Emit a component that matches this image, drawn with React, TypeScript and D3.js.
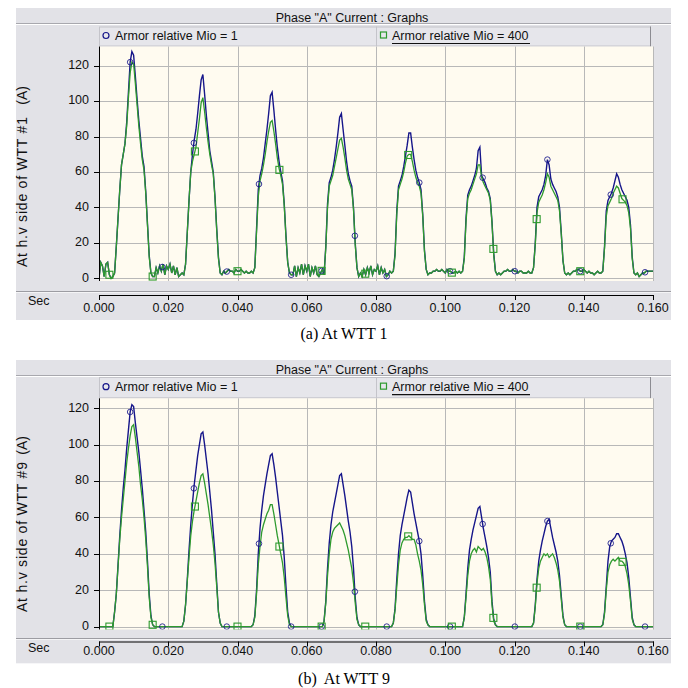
import React from "react";
import * as d3 from "d3";

// sampling step of the traces (s)
const STEP = 0.0005;
const time = d3.range(0, 321).map(i => i * STEP);

// WTT 1, Armor relative Mio = 1 (one row per 0.02 s period)
const wtt1Mio1 = [
  0,9,7,1,8,9,2,0, 1,3,18,34,50,64,70,76,88,105,122,128,126,114,101,89,79,69,63,49,31,13,3,1, 1,6,3,7,4,8,2,7,
  5,8,3,7,2,6,1,2, 3,2,8,26,44,60,70,78,84,93,103,112,115,104,92,82,72,66,60,46,28,12,3,2, 4,3,4,5,4,4,3,5,
  4,4,5,4,3,4,3,3, 4,3,6,28,50,58,62,68,76,84,93,103,105,95,84,74,66,60,55,42,24,9,3,2, 2,7,1,6,3,8,2,7,
  4,8,1,6,3,7,2,1, 3,5,2,18,42,54,57,61,67,74,82,91,93,84,75,66,59,55,52,40,20,6,1,3, 1,5,2,6,3,7,2,5,
  4,7,2,6,3,5,1,2, 4,3,4,14,38,52,55,58,63,69,75,82,82,74,67,61,57,54,50,36,16,5,2,3, 3,4,4,5,4,4,5,4,
  3,5,4,4,3,3,4,3, 4,3,4,12,34,47,50,52,55,58,62,72,74,58,56,54,51,49,45,32,14,4,2,3, 2,3,4,4,5,4,4,5,
  4,4,3,4,4,3,3,3, 4,3,3,6,20,40,46,48,50,53,58,67,64,56,53,51,49,46,40,26,10,3,2,3, 2,3,4,4,5,5,4,4,
  5,4,3,4,3,3,2,3, 4,3,3,4,18,38,44,46,48,51,55,59,57,53,50,48,46,44,40,30,12,3,2,3, 1,2,3,3,4,4,4,4,
  4,
];

// WTT 1, Armor relative Mio = 400
const wtt1Mio400 = [
  0,9,7,1,8,9,2,0, 1,3,18,34,50,64,70,76,86,102,116,122,121,110,98,86,76,67,61,48,30,12,3,1, 1,6,3,7,4,8,2,7,
  5,8,3,7,2,6,1,2, 3,2,8,26,44,60,66,70,74,82,90,99,102,94,85,77,70,64,59,45,27,11,3,2, 4,3,4,5,4,4,3,5,
  4,4,5,4,3,4,3,3, 4,3,6,26,46,55,59,64,70,77,83,88,89,83,76,68,62,58,53,41,23,9,3,2, 2,7,1,6,3,8,2,7,
  4,8,1,6,3,7,2,1, 3,5,2,17,40,52,55,58,63,68,73,78,79,74,68,61,56,53,50,39,19,6,1,3, 1,5,2,6,3,7,2,5,
  4,7,2,6,3,5,1,2, 4,3,4,13,36,50,53,56,60,65,69,70,70,66,61,57,54,52,48,35,15,5,2,3, 3,4,4,5,4,4,5,4,
  3,5,4,4,3,3,4,3, 4,3,4,11,32,45,48,50,53,56,59,64,64,57,54,52,50,48,44,31,13,4,2,3, 2,3,4,4,5,4,4,5,
  4,4,3,4,4,3,3,3, 4,3,3,6,19,37,43,45,47,50,54,59,57,52,50,48,46,44,38,25,10,3,2,3, 2,3,4,4,5,5,4,4,
  5,4,3,4,3,3,2,3, 4,3,3,4,17,35,41,43,45,48,50,52,51,48,45,44,43,41,37,28,11,3,2,3, 1,2,3,3,4,4,4,4,
  4,
];

// WTT 9, Armor relative Mio = 1
const wtt9Mio1 = [
  0,0,0,0,0,0,0,0, 0,8,18,34,50,64,76,86,98,108,118,122,121,112,104,96,86,76,64,52,36,18,6,1, 0,0,0,0,0,0,0,0,
  0,0,0,0,0,0,0,0, 0,3,12,26,42,56,68,78,86,94,100,106,107,100,92,84,74,64,52,40,24,8,2,0, 0,0,0,0,0,0,0,0,
  0,0,0,0,0,0,0,0, 0,1,6,20,40,54,64,72,78,84,89,94,95,89,82,74,66,58,50,38,22,8,2,0, 0,0,0,0,0,0,0,0,
  0,0,0,0,0,0,0,0, 0,0,3,14,32,46,56,63,68,73,78,83,84,78,72,65,58,52,44,32,16,5,1,0, 0,0,0,0,0,0,0,0,
  0,0,0,0,0,0,0,0, 0,0,2,10,26,40,50,56,61,66,71,75,74,68,62,57,52,47,40,28,14,4,1,0, 0,0,0,0,0,0,0,0,
  0,0,0,0,0,0,0,0, 0,0,0,5,18,32,42,48,53,57,61,65,66,60,54,49,44,38,30,14,4,1,0,0, 0,0,0,0,0,0,0,0,
  0,0,0,0,0,0,0,0, 0,0,0,2,12,26,36,42,47,51,55,58,59,54,49,45,41,36,28,17,6,1,0,0, 0,0,0,0,0,0,0,0,
  0,0,0,0,0,0,0,0, 0,0,0,1,8,22,36,44,47,48,49,51,51,49,47,44,40,35,27,16,5,1,0,0, 0,0,0,0,0,0,0,0,
  0,
];

// WTT 9, Armor relative Mio = 400
const wtt9Mio400 = [
  0,0,0,0,0,0,0,0, 0,8,18,33,48,60,70,80,90,98,105,110,111,104,96,88,78,70,60,48,33,16,5,1, 0,0,0,0,0,0,0,0,
  0,0,0,0,0,0,0,0, 0,3,12,25,38,50,58,64,69,74,79,83,84,79,73,67,60,53,45,35,22,8,2,0, 0,0,0,0,0,0,0,0,
  0,0,0,0,0,0,0,0, 0,1,5,18,34,44,52,56,59,62,64,67,67,62,56,50,45,40,35,27,16,6,1,0, 0,0,0,0,0,0,0,0,
  0,0,0,0,0,0,0,0, 0,0,3,13,28,40,48,52,54,55,56,57,55,53,50,46,42,37,32,24,13,4,1,0, 0,0,0,0,0,0,0,0,
  0,0,0,0,0,0,0,0, 0,0,2,9,22,34,42,46,48,49,49,50,49,48,48,45,40,36,31,23,12,3,1,0, 0,0,0,0,0,0,0,0,
  0,0,0,0,0,0,0,0, 0,0,0,5,16,28,36,40,42,43,41,44,43,42,43,41,38,33,26,12,3,1,0,0, 0,0,0,0,0,0,0,0,
  0,0,0,0,0,0,0,0, 0,0,0,2,11,24,32,36,38,40,39,40,38,39,40,38,35,31,25,15,5,1,0,0, 0,0,0,0,0,0,0,0,
  0,0,0,0,0,0,0,0, 0,0,0,1,7,20,30,34,36,37,36,37,38,36,36,35,33,29,23,14,4,1,0,0, 0,0,0,0,0,0,0,0,
  0,
];

// where the trace markers sit (s)
const mio1MarkerTimes = [0.009, 0.0183, 0.0274, 0.0369, 0.0462, 0.0555, 0.0643, 0.0739, 0.0831,
  0.0925, 0.1014, 0.1108, 0.1201, 0.1295, 0.139, 0.1478, 0.1577];
const mio400MarkerTimes = [0.003, 0.0155, 0.0277, 0.04, 0.0521, 0.0643, 0.0769, 0.0893, 0.1019,
  0.1139, 0.1264, 0.139, 0.1512];

const xTicks = [0, 0.02, 0.04, 0.06, 0.08, 0.1, 0.12, 0.14, 0.16];
const yTicks = [0, 20, 40, 60, 80, 100, 120];

const title = 'Phase "A" Current : Graphs';
const legend1 = "Armor relative Mio = 1";
const legend2 = "Armor relative Mio = 400";

const BLUE = "#16168a";
const GREEN = "#2e9a2e";
const PANEL = "#e2e2e7";
const PLOT_BG = "#fffbf0";
const GRID = "#b8b8b8";
const UI_FONT = "'Liberation Sans', Arial, sans-serif";

const x = d3.scaleLinear().domain([0, 0.16]).range([99, 653]);

function Panel({top, titleBottom, legendTop, plotTop, plotBottom, sepY, axisY, labelY, bottom,
  zeroY, y120Y, mio1, mio400, yTitle, yTitleLow, yTitleHigh, caption, captionY, id}) {
  const y = d3.scaleLinear().domain([0, 120]).range([zeroY, y120Y]);
  const line = d3.line<number>()
    .x((d, i) => x(time[i]))
    .y(d => y(d));
  const valueAt = (vals: number[]) => d3.scaleLinear().domain(time).range(vals);
  const blueAt = valueAt(mio1);
  const greenAt = valueAt(mio400);
  const legendMid = (legendTop + plotTop) / 2;

  return (
    <g>
      <rect x={16} y={top} width={655} height={bottom - top} fill={PANEL} />
      {/* title bar */}
      <line x1={16} x2={671} y1={titleBottom} y2={titleBottom} stroke="#a8a8ae" />
      <line x1={16} x2={671} y1={titleBottom + 1} y2={titleBottom + 1} stroke="#ffffff" />
      <text x={352} y={top + 10.5} fontFamily={UI_FONT} fontSize={12.5} textAnchor="middle"
        dominantBaseline="middle" fill="#111">{title}</text>

      {/* legend boxes */}
      <rect x={99.5} y={legendTop + 0.5} width={277} height={plotTop - legendTop - 1}
        fill="#e6e6eb" stroke="#c4c4ca" />
      <rect x={376.5} y={legendTop + 0.5} width={274} height={plotTop - legendTop - 1}
        fill="#e6e6eb" stroke="#c4c4ca" />
      <line x1={650.5} x2={650.5} y1={legendTop} y2={plotTop} stroke="#8c8c92" />
      <circle cx={106} cy={legendMid - 1} r={3} fill="none" stroke={BLUE} strokeWidth={1.2} />
      <text x={115} y={legendMid} fontFamily={UI_FONT} fontSize={12.5} dominantBaseline="middle"
        fill="#111">{legend1}</text>
      <rect x={380.5} y={legendMid - 4.5} width={6} height={6} fill="none" stroke={GREEN}
        strokeWidth={1.2} />
      <text x={392} y={legendMid} fontFamily={UI_FONT} fontSize={12.5} dominantBaseline="middle"
        fill="#111">{legend2}</text>
      <line x1={392} x2={530} y1={legendMid + 7} y2={legendMid + 7} stroke="#111" strokeWidth={1.2} />

      {/* plot area */}
      <rect x={99} y={plotTop} width={554} height={plotBottom - plotTop} fill={PLOT_BG} />
      <clipPath id={`clip-${id}`}>
        <rect x={99} y={plotTop} width={554} height={plotBottom - plotTop} />
      </clipPath>
      {xTicks.slice(1).map(t => (
        <line key={t} x1={Math.round(x(t)) + 0.5} x2={Math.round(x(t)) + 0.5} y1={plotTop}
          y2={plotBottom} stroke={GRID} />
      ))}
      {yTicks.map(v => (
        <line key={v} x1={99} x2={653} y1={Math.round(y(v)) + 0.5} y2={Math.round(y(v)) + 0.5}
          stroke={GRID} />
      ))}
      <g clipPath={`url(#clip-${id})`}>
        <path d={line(mio1) ?? ""} fill="none" stroke={BLUE} strokeWidth={1.4} />
        <path d={line(mio400) ?? ""} fill="none" stroke={GREEN} strokeWidth={1.3} />
        {mio1MarkerTimes.map(t => (
          <circle key={t} cx={x(t)} cy={y(blueAt(t))} r={2.8} fill="none" stroke={BLUE}
            strokeWidth={1} opacity={0.85} />
        ))}
        {mio400MarkerTimes.map(t => (
          <rect key={t} x={x(t) - 3.5} y={y(greenAt(t)) - 3.5} width={7} height={7} fill="none"
            stroke={GREEN} strokeWidth={1.1} />
        ))}
      </g>

      {/* y axis */}
      <line x1={99.5} x2={99.5} y1={plotTop} y2={plotBottom} stroke="#000" />
      {yTicks.map(v => (
        <g key={v}>
          <line x1={94} x2={99} y1={Math.round(y(v)) + 0.5} y2={Math.round(y(v)) + 0.5} stroke="#000" />
          <text x={89} y={y(v)} fontFamily={UI_FONT} fontSize={12.5} textAnchor="end"
            dominantBaseline="middle" fill="#111">{v}</text>
        </g>
      ))}
      <text transform={`translate(27,${yTitleLow}) rotate(-90)`} fontFamily={UI_FONT} fontSize={14}
        textLength={150} lengthAdjust="spacing" fill="#111">{yTitle}</text>
      <text transform={`translate(27,${yTitleHigh}) rotate(-90)`} fontFamily={UI_FONT} fontSize={14}
        textAnchor="end" fill="#111">(A)</text>

      {/* time axis */}
      <line x1={16} x2={671} y1={sepY} y2={sepY} stroke="#9c9ca2" />
      <line x1={16} x2={671} y1={sepY + 1} y2={sepY + 1} stroke="#f4f4f6" />
      <line x1={99} x2={654} y1={axisY + 0.5} y2={axisY + 0.5} stroke="#000" />
      {xTicks.map(t => (
        <g key={t}>
          <line x1={Math.round(x(t)) + 0.5} x2={Math.round(x(t)) + 0.5} y1={axisY} y2={axisY + 5}
            stroke="#000" />
          <text x={x(t)} y={labelY} fontFamily={UI_FONT} fontSize={12.5} textAnchor="middle"
            dominantBaseline="middle" fill="#111">{d3.format(".3f")(t)}</text>
        </g>
      ))}
      <text x={28} y={axisY + 7} fontFamily={UI_FONT} fontSize={12.5} dominantBaseline="middle"
        fill="#111">Sec</text>

      <text x={344} y={captionY} fontFamily="'Liberation Serif', 'Times New Roman', serif"
        fontSize={16} textAnchor="middle" fill="#000" style={{whiteSpace: "pre"}}>{caption}</text>
    </g>
  );
}

export default function App() {
  return (
    <svg width={688} height={688} style={{position: "absolute", left: 0, top: 0}}>
      <rect width={688} height={688} fill="#fff" />
      <Panel id="a" top={8} titleBottom={23.5} legendTop={26.5} plotTop={46.5} plotBottom={281}
        sepY={291.5} axisY={295} labelY={308.5} bottom={320} zeroY={278.3} y120Y={65.7}
        mio1={wtt1Mio1} mio400={wtt1Mio400} yTitle="At h.v side of WTT #1" yTitleLow={267}
        yTitleHigh={86} caption="(a) At WTT 1" captionY={338.5} />
      <Panel id="b" top={360} titleBottom={375.5} legendTop={377} plotTop={398.3} plotBottom={629.5}
        sepY={638.5} axisY={641.5} labelY={652} bottom={663.3} zeroY={626.6} y120Y={408.3}
        mio1={wtt9Mio1} mio400={wtt9Mio400} yTitle="At h.v side of WTT #9" yTitleLow={612}
        yTitleHigh={436} caption="(b)  At WTT 9" captionY={684} />
    </svg>
  );
}
